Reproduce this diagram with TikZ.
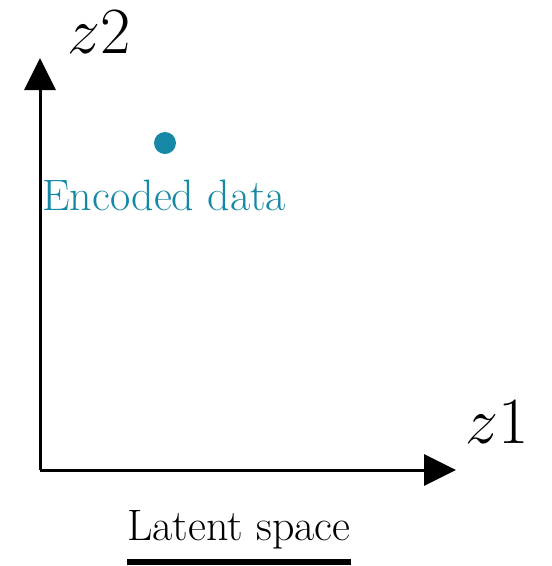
\RequirePackage{fix-cm}
\documentclass[tikz,border=0pt]{standalone}
\usepackage{amsmath}
\usetikzlibrary{arrows.meta,positioning}
\definecolor{LatentTeal}{HTML}{1488A4}
\definecolor{LatentInk}{HTML}{000000}

\begin{document}
\begin{tikzpicture}[
    x=1pt, y=1pt,
    axis/.style={
      line width=3pt,
      draw=LatentInk,
      -{Triangle[length=32pt, width=31pt]}
    },
    axislabel/.style={
      anchor=base west,
      inner sep=0pt,
      text=LatentInk,
      font=\fontsize{66}{78}\selectfont
    },
    caption/.style={
      anchor=base west,
      inner sep=0pt,
      font=\fontsize{44}{52}\selectfont
    },
    point/.style={circle, fill=LatentTeal, inner sep=0pt, minimum size=22pt}
  ]
    \useasboundingbox (0,0) rectangle (552,-566);

    \coordinate (origin) at (40,-470);
    \coordinate (z2end) at (40,-58);
    \coordinate (z1end) at (456,-470);

    \draw[axis] (origin) -- (z2end);
    \draw[axis] (origin) -- (z1end);

    \node[axislabel] (z2lab) at (67,-53) {$z2$};
    \node[axislabel] (z1lab) at (465,-443) {$z1$};

    \node[point] (enc) at (165,-143) {};
    \node[caption, text=LatentTeal] (enclab) at (42,-210) {Encoded data};

    \node[caption, text=LatentInk] (latent) at (127,-540) {Latent space};
    \draw[line width=6pt, draw=LatentInk]
      ([yshift=-22pt]latent.base west) -- ([yshift=-22pt]latent.base east);
  \end{tikzpicture}
\end{document}
